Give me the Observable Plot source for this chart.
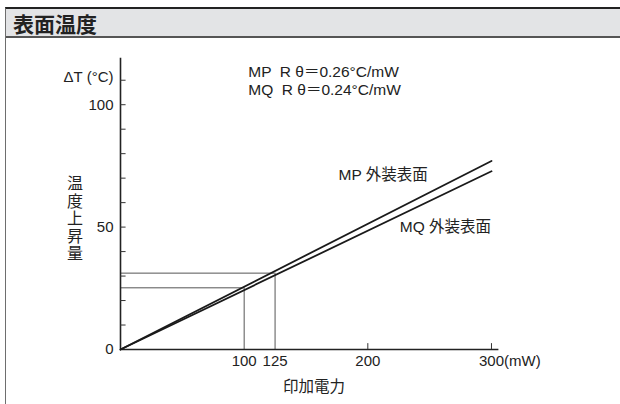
<!DOCTYPE html>
<html>
<head>
<meta charset="utf-8">
<script src="https://cdn.jsdelivr.net/npm/d3@7"></script>
<script src="https://cdn.jsdelivr.net/npm/@observablehq/plot@0.6"></script>
<style>
html, body { margin: 0; padding: 0; background: #fff; width: 620px; height: 404px; overflow: hidden; }
#frame { position: absolute; left: 5px; top: 7px; width: 615px; height: 397px; border-left: 1.5px solid #6e6e6e; border-top: 2px solid #222; box-sizing: border-box; }
#title { height: 29px; background: #e3e4e6; border-bottom: 2px solid #555; box-sizing: border-box; font: bold 21px "Noto Sans CJK JP", sans-serif; color: #222; padding-left: 7px; line-height: 28px; }
#chart { position: absolute; left: 7px; top: 38px; }
</style>
</head>
<body>
<div id="frame"><div id="title">表面温度</div></div>
<div id="chart"></div>
<script>
// ---- data ----
const titleText = "表面温度";
const seriesNames = ["MP", "MQ"];
const mpPower = [0, 300];      // mW
const mpRise = [0, 77];        // °C
const mqPower = [0, 300];
const mqRise = [0, 72.8];
const refPower = [125, 100];   // guide lines (MP, MQ)
const refRise = [31.2, 25.2];
const yMinorTicks = [10, 20, 30, 40, 50, 60, 70, 80, 90, 100, 110];
const yTickLabels = [0, 50, 100];
const xTickMarks = [200, 300];
const xTickValues = [100, 125, 200, 300];
const xTickLabels = ["100", "125", "200", "300(mW)"];
const yAxisUnit = "ΔT (°C)";
const yAxisTitle = "温度上昇量";
const xAxisTitle = "印加電力";
const noteLines = ["MP  R θ＝0.26°C/mW", "MQ  R θ＝0.24°C/mW"];
const lineLabels = ["MP 外装表面", "MQ 外装表面"];

document.getElementById("title").textContent = titleText;

const lines = [
  ...mpPower.map((p, i) => ({name: seriesNames[0], power: p, rise: mpRise[i]})),
  ...mqPower.map((p, i) => ({name: seriesNames[1], power: p, rise: mqRise[i]}))
];
const refs = refPower.map((p, i) => ({power: p, rise: refRise[i]}));
const xLabs = xTickValues.map((v, i) => ({v, t: xTickLabels[i]}));
const ink = "#222";
const font = '"Liberation Sans", "Noto Sans CJK JP", sans-serif';

const chart = Plot.plot({
  width: 613,
  height: 366,
  marginLeft: 113,
  marginRight: 121.6,
  marginTop: 19.7,
  marginBottom: 55,
  style: {background: "transparent", fontFamily: font, color: ink},
  x: {domain: [0, 306], axis: null},
  y: {domain: [0, 119], axis: null},
  marks: [
    // guide lines
    Plot.ruleY(refs, {y: "rise", x1: 0, x2: "power", stroke: "#555", strokeWidth: 1}),
    Plot.ruleX(refs, {x: "power", y1: 0, y2: "rise", stroke: "#555", strokeWidth: 1}),
    // axes
    Plot.ruleX([0], {y1: 0, y2: 119, stroke: ink, strokeWidth: 1.6}),
    Plot.ruleY([0], {x1: 0, x2: 306, stroke: ink, strokeWidth: 1.6}),
    Plot.ruleY(yMinorTicks, {x1: 0, x2: 4.5, stroke: "#333", strokeWidth: 1}),
    Plot.ruleX(xTickMarks, {y1: 0, y2: 2.4, stroke: "#333", strokeWidth: 1}),
    // series
    Plot.line(lines, {x: "power", y: "rise", z: "name", stroke: "#1a1a1a", strokeWidth: 1.8}),
    // tick labels
    Plot.text(yTickLabels, {x: 0, y: d => d, text: d => String(d), textAnchor: "end", dx: -7, fontSize: 15, fill: ink}),
    Plot.text([yAxisUnit], {x: 0, y: 111.1, text: d => d, textAnchor: "end", dx: -7, fontSize: 15, fill: ink}),
    Plot.text(xLabs.filter(d => d.v !== 300), {x: "v", y: 0, text: "t", dy: 11.5, fontSize: 15, fill: ink}),
    Plot.text(xLabs.filter(d => d.v === 300), {x: "v", y: 0, text: "t", dy: 11.5, dx: -12.5, textAnchor: "start", fontSize: 15, fill: ink}),
    // axis titles
    Plot.text([xAxisTitle], {x: 156.5, y: -15.5, text: d => d, fontSize: 15.5, fill: ink}),
    Plot.text([yAxisTitle], {x: -36.8, y: 53.5, text: d => [...d].join("\n"), fontSize: 16, lineHeight: 1.09, fill: ink}),
    // annotations
    Plot.text(noteLines, {x: 103.3, y: (d, i) => [113.3, 105.8][i], text: d => d, textAnchor: "start", fontSize: 15.5, fill: ink}),
    Plot.text(lineLabels, {x: (d, i) => [176.3, 225.8][i], y: (d, i) => [71.1, 50][i], text: d => d, textAnchor: "start", fontSize: 15.5, fill: ink})
  ]
});
document.getElementById("chart").appendChild(chart);
</script>
</body>
</html>
